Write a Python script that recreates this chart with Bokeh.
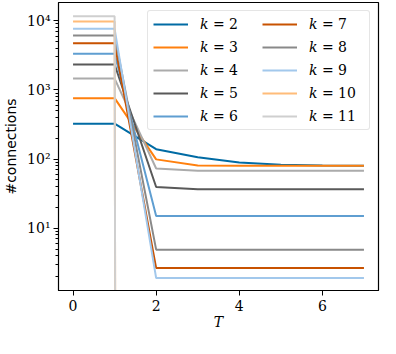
import numpy as np
from bokeh.plotting import figure
from bokeh.models import Range1d, FixedTicker, Legend, LegendItem
from bokeh.embed import file_html
from bokeh.resources import INLINE

T = [0, 1, 2, 3, 4, 5, 6, 7]
ks = [2, 3, 4, 5, 6, 7, 8, 9, 10, 11]
conn_k2 = [325, 325, 139, 106, 89, 83, 81, 80]
conn_k3 = [760, 760, 99, 81, 80, 80, 80, 80]
conn_k4 = [1460, 1460, 73, 68, 68, 68, 68, 68]
conn_k5 = [2330, 2330, 39.5, 36.6, 36.6, 36.6, 36.6, 36.6]
conn_k6 = [3330, 3330, 15, 15, 15, 15, 15, 15]
conn_k7 = [4740, 4740, 2.65, 2.65, 2.65, 2.65, 2.65, 2.65]
conn_k8 = [6130, 6130, 4.9, 4.9, 4.9, 4.9, 4.9, 4.9]
conn_k9 = [7660, 7660, 1.9, 1.9, 1.9, 1.9, 1.9, 1.9]
conn_k10 = [9770, 9770, 0, 0, 0, 0, 0, 0]
conn_k11 = [11660, 11660, 0, 0, 0, 0, 0, 0]
series = [conn_k2, conn_k3, conn_k4, conn_k5, conn_k6, conn_k7, conn_k8, conn_k9, conn_k10, conn_k11]
colors = ['#006BA4', '#FF800E', '#ABABAB', '#595959', '#5F9ED1',
          '#C85200', '#898989', '#A2C8EC', '#FFBC79', '#CFCFCF']

x_ticks = [0, 2, 4, 6]
y_ticks = [10, 100, 1000, 10000]
y_tick_labels = ["10\u00b9", "10\u00b2", "10\u00b3", "10\u2074"]

p = figure(width=380, height=333, output_backend="svg", toolbar_location=None,
           y_axis_type="log",
           x_range=Range1d(-0.35, 7.35), y_range=Range1d(1.256, 18400),
           min_border_left=55, min_border_top=2, min_border_right=2, min_border_bottom=43)

items = []
for k, vals, c in zip(ks, series, colors):
    yv = [v if v > 0 else 1e-300 for v in vals]  # clip non-positive like matplotlib
    r = p.line(T, yv, line_color=c, line_width=2)
    items.append(LegendItem(label="\U0001D458 = %d" % k, renderers=[r]))

legend = Legend(items=items, location="top_right", ncols=2)
legend.label_text_font = "DejaVu Serif"
legend.label_text_font_size = "14px"
legend.label_text_color = "black"
legend.glyph_width = 35
legend.glyph_height = 16
legend.label_height = 16
legend.label_width = 55
legend.spacing = 7
legend.label_standoff = 12
legend.padding = 5
legend.margin = 8
legend.border_line_color = "#CCCCCC"
legend.border_line_width = 1
legend.background_fill_alpha = 0.8
try:
    legend.border_radius = 3
except Exception:
    pass
p.add_layout(legend)

p.grid.visible = False
p.outline_line_color = "black"
p.outline_line_width = 1.2

p.xaxis.ticker = FixedTicker(ticks=x_ticks)
minor = [m * 10 ** e for e in range(0, 5) for m in range(2, 10)]
p.yaxis.ticker = FixedTicker(ticks=y_ticks, minor_ticks=minor)
p.yaxis.major_label_overrides = {float(t): l for t, l in zip(y_ticks, y_tick_labels)}

for ax in [p.xaxis[0], p.yaxis[0]]:
    ax.major_tick_in = 0
    ax.major_tick_out = 5
    ax.minor_tick_in = 0
    ax.minor_tick_out = 3
    ax.major_label_text_font = "DejaVu Serif"
    ax.major_label_text_font_size = "14px"
    ax.major_label_text_color = "black"
    ax.axis_line_color = "black"
    ax.major_tick_line_color = "black"
    ax.minor_tick_line_color = "black"
    ax.axis_label_text_font_style = "normal"
    ax.axis_label_text_color = "black"
p.xaxis.minor_tick_line_color = None
p.xaxis.major_label_standoff = 4
p.yaxis.major_label_standoff = 3

p.xaxis.axis_label = "T"
p.xaxis.axis_label_text_font = "DejaVu Serif"
p.xaxis.axis_label_text_font_style = "italic"
p.xaxis.axis_label_text_font_size = "14px"
p.xaxis.axis_label_standoff = 0
p.yaxis.axis_label = "#connections"
p.yaxis.axis_label_text_font = "DejaVu Sans"
p.yaxis.axis_label_text_font_size = "14px"
p.yaxis.axis_label_standoff = 5

open("out.html", "w").write(file_html(p, INLINE))
